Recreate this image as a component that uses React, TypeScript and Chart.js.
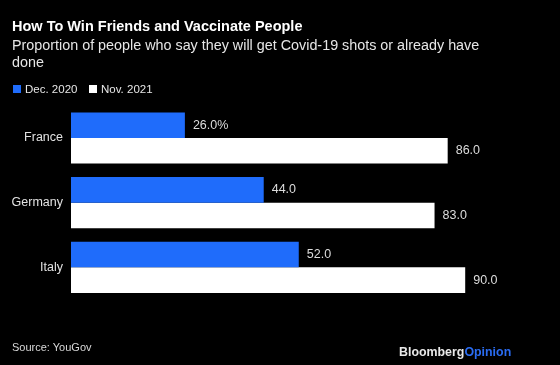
import React, { useEffect, useRef } from "react";
import { Chart, registerables } from "chart.js";

Chart.register(...registerables);

const countries = ["France", "Germany", "Italy"];
const dec2020 = [26, 44, 52];
const nov2021 = [86, 83, 90];
const seriesNames = ["Dec. 2020", "Nov. 2021"];

const BLUE = "#1f6cfb";
const FONT = "'Liberation Sans', Arial, sans-serif";

const valueLabels = {
  id: "valueLabels",
  afterDatasetsDraw(chart: any) {
    const ctx = chart.ctx;
    ctx.save();
    ctx.font = `12.5px ${FONT}`;
    ctx.fillStyle = "#dcdcdc";
    ctx.textBaseline = "middle";
    ctx.textAlign = "left";
    chart.data.datasets.forEach((ds: any, di: number) => {
      const meta = chart.getDatasetMeta(di);
      meta.data.forEach((el: any, i: number) => {
        const v = ds.data[i] as number;
        let txt = v.toFixed(1);
        if (di === 0 && i === 0) txt += "%";
        ctx.fillText(txt, el.x + 8, el.y);
      });
    });
    ctx.restore();
  },
};

export default function App() {
  const ref = useRef<HTMLCanvasElement>(null);
  useEffect(() => {
    const chart = new Chart(ref.current!, {
      type: "bar",
      data: {
        labels: countries,
        datasets: [
          { label: seriesNames[0], data: dec2020, backgroundColor: BLUE, borderWidth: 0 },
          { label: seriesNames[1], data: nov2021, backgroundColor: "#ffffff", borderWidth: 0 },
        ],
      },
      options: {
        indexAxis: "y",
        animation: false,
        responsive: false,
        devicePixelRatio: 1,
        layout: { padding: { left: 0, right: 51, top: 105.6, bottom: 65.3 } },
        plugins: { legend: { display: false }, tooltip: { enabled: false }, title: { display: false } },
        scales: {
          x: { display: false, min: 0, max: 100 },
          y: {
            grid: { display: false, drawTicks: false },
            border: { display: false },
            ticks: { color: "#e2e2e2", padding: 8, font: { family: FONT, size: 12.5 } },
            afterFit(scale: any) {
              scale.width = 71;
            },
          },
        },
        datasets: { bar: { categoryPercentage: 0.79, barPercentage: 1 } },
      } as any,
      plugins: [valueLabels],
    });
    return () => chart.destroy();
  }, []);

  const text = (style: React.CSSProperties, content: React.ReactNode) => (
    <div style={{ position: "absolute", whiteSpace: "nowrap", fontFamily: FONT, ...style }}>{content}</div>
  );

  return (
    <div style={{ position: "fixed", left: 0, top: 0, width: 560, height: 365, background: "#000", overflow: "hidden" }}>
      <canvas ref={ref} width={560} height={365} style={{ position: "absolute", left: 0, top: 0 }} />
      {text({ left: 12, top: 18.2, fontSize: 14.5, lineHeight: "17px", fontWeight: 700, color: "#ffffff" }, "How To Win Friends and Vaccinate People")}
      {text({ left: 12, top: 37.1, fontSize: 14.35, color: "#e6e6e6", lineHeight: "17px" }, (
        <>
          Proportion of people who say they will get Covid-19 shots or already have
          <br />
          done
        </>
      ))}
      <div style={{ position: "absolute", left: 13, top: 85, width: 8, height: 8, background: BLUE }} />
      {text({ left: 25, top: 82, fontSize: 11.5, lineHeight: "14px", color: "#e6e6e6" }, seriesNames[0])}
      <div style={{ position: "absolute", left: 89, top: 85, width: 8, height: 8, background: "#fff" }} />
      {text({ left: 101, top: 82, fontSize: 11.5, lineHeight: "14px", color: "#e6e6e6" }, seriesNames[1])}
      {text({ left: 12, top: 341.4, fontSize: 11, lineHeight: "13px", color: "#d8d8d8" }, "Source: YouGov")}
      {text({ left: 399, top: 345.4, fontSize: 12.4, lineHeight: "15px", fontWeight: 700, color: "#e8e8e8" }, (
        <>
          Bloomberg<span style={{ color: "#2a6cf2" }}>Opinion</span>
        </>
      ))}
    </div>
  );
}
